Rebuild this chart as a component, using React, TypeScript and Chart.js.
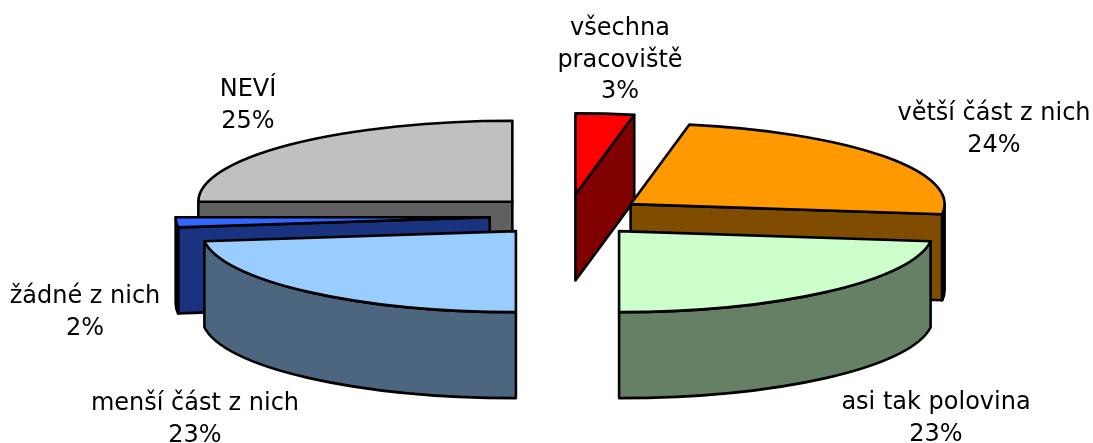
import React, { useEffect, useRef } from "react";
import { Chart, registerables } from "chart.js";

Chart.register(...registerables);

const categories = ["všechna pracoviště", "větší část z nich", "asi tak polovina", "menší část z nich", "žádné z nich", "NEVÍ"];
const values = [3, 24, 23, 23, 2, 25];
const topColors = ["#ff0000", "#ff9900", "#ccffcc", "#99ccff", "#3366ff", "#c0c0c0"];
const sideColors = ["#800000", "#804d00", "#668066", "#4d667f", "#1a3380", "#606060"];
const explode = [84, 78, 78, 78, 78, 78];
const labelLines = [["všechna", "pracoviště", "3%"], ["větší část z nich", "24%"], ["asi tak polovina", "23%"], ["menší část z nich", "23%"], ["žádné z nich", "2%"], ["NEVÍ", "25%"]];
const labelCenters = [[620, 29], [994, 114], [936, 403], [195, 404], [85, 297], [248, 90]];

const TILT = 0.258;
const DEPTH = 86;
const LINE = 31.3;
const FONT = '24px "DejaVu Sans"';

const pie3d = {
  id: "pie3d",
  beforeDatasetDraw(chart: any) {
    const ctx = chart.ctx;
    const meta = chart.getDatasetMeta(0);
    const slices = meta.data.map((el: any, i: number) => {
      const p = el.getProps(["x", "y", "startAngle", "endAngle", "outerRadius"], true);
      const mid = (p.startAngle + p.endAngle) / 2;
      const off = el.options.offset;
      return { i, s: p.startAngle, e: p.endAngle, r: p.outerRadius, cx: p.x + off * Math.cos(mid), cy: p.y + off * Math.sin(mid) * TILT };
    });
    slices.sort((a: any, b: any) => a.cy - b.cy);
    ctx.save();
    ctx.lineWidth = 2.6;
    ctx.lineJoin = "round";
    ctx.strokeStyle = "#000";
    for (const sl of slices) {
      const px = (a: number) => sl.cx + sl.r * Math.cos(a);
      const py = (a: number) => sl.cy + sl.r * TILT * Math.sin(a);
      const paint = (fill: string) => {
        ctx.fillStyle = fill;
        ctx.fill();
        ctx.stroke();
      };
      const cutFace = (a: number) => {
        ctx.beginPath();
        ctx.moveTo(sl.cx, sl.cy);
        ctx.lineTo(px(a), py(a));
        ctx.lineTo(px(a), py(a) + DEPTH);
        ctx.lineTo(sl.cx, sl.cy + DEPTH);
        ctx.closePath();
        paint(sideColors[sl.i]);
      };
      if (Math.cos(sl.s) < -1e-6) cutFace(sl.s);
      if (Math.cos(sl.e) > 1e-6) cutFace(sl.e);
      const a0 = Math.max(sl.s, 0);
      const a1 = Math.min(sl.e, Math.PI);
      if (a1 > a0) {
        ctx.beginPath();
        ctx.ellipse(sl.cx, sl.cy, sl.r, sl.r * TILT, 0, a0, a1);
        ctx.ellipse(sl.cx, sl.cy + DEPTH, sl.r, sl.r * TILT, 0, a1, a0, true);
        ctx.closePath();
        paint(sideColors[sl.i]);
      }
      ctx.beginPath();
      ctx.moveTo(sl.cx, sl.cy);
      ctx.ellipse(sl.cx, sl.cy, sl.r, sl.r * TILT, 0, sl.s, sl.e);
      ctx.closePath();
      paint(topColors[sl.i]);
    }
    ctx.restore();
    return false;
  },
  afterDatasetsDraw(chart: any) {
    const ctx = chart.ctx;
    ctx.save();
    ctx.font = FONT;
    ctx.fillStyle = "#000";
    ctx.textAlign = "center";
    ctx.textBaseline = "middle";
    labelLines.forEach((lines, i) => {
      lines.forEach((t, j) => ctx.fillText(t, labelCenters[i][0], labelCenters[i][1] + j * LINE));
    });
    ctx.restore();
  },
};

export default function App() {
  const ref = useRef<HTMLCanvasElement>(null);
  useEffect(() => {
    const chart = new Chart(ref.current!, {
      type: "pie",
      data: {
        labels: categories,
        datasets: [{ data: values, backgroundColor: topColors, offset: explode, borderWidth: 0 }],
      },
      options: {
        responsive: false,
        animation: false,
        radius: 314,
        layout: { padding: { left: 42, bottom: 11 } },
        plugins: { legend: { display: false }, tooltip: { enabled: false } },
      } as any,
      plugins: [pie3d],
    } as any);
    return () => chart.destroy();
  }, []);
  return (
    <canvas
      ref={ref}
      width={1093}
      height={443}
      style={{ position: "fixed", left: 0, top: 0, width: 1093, height: 443, display: "block" }}
    />
  );
}
